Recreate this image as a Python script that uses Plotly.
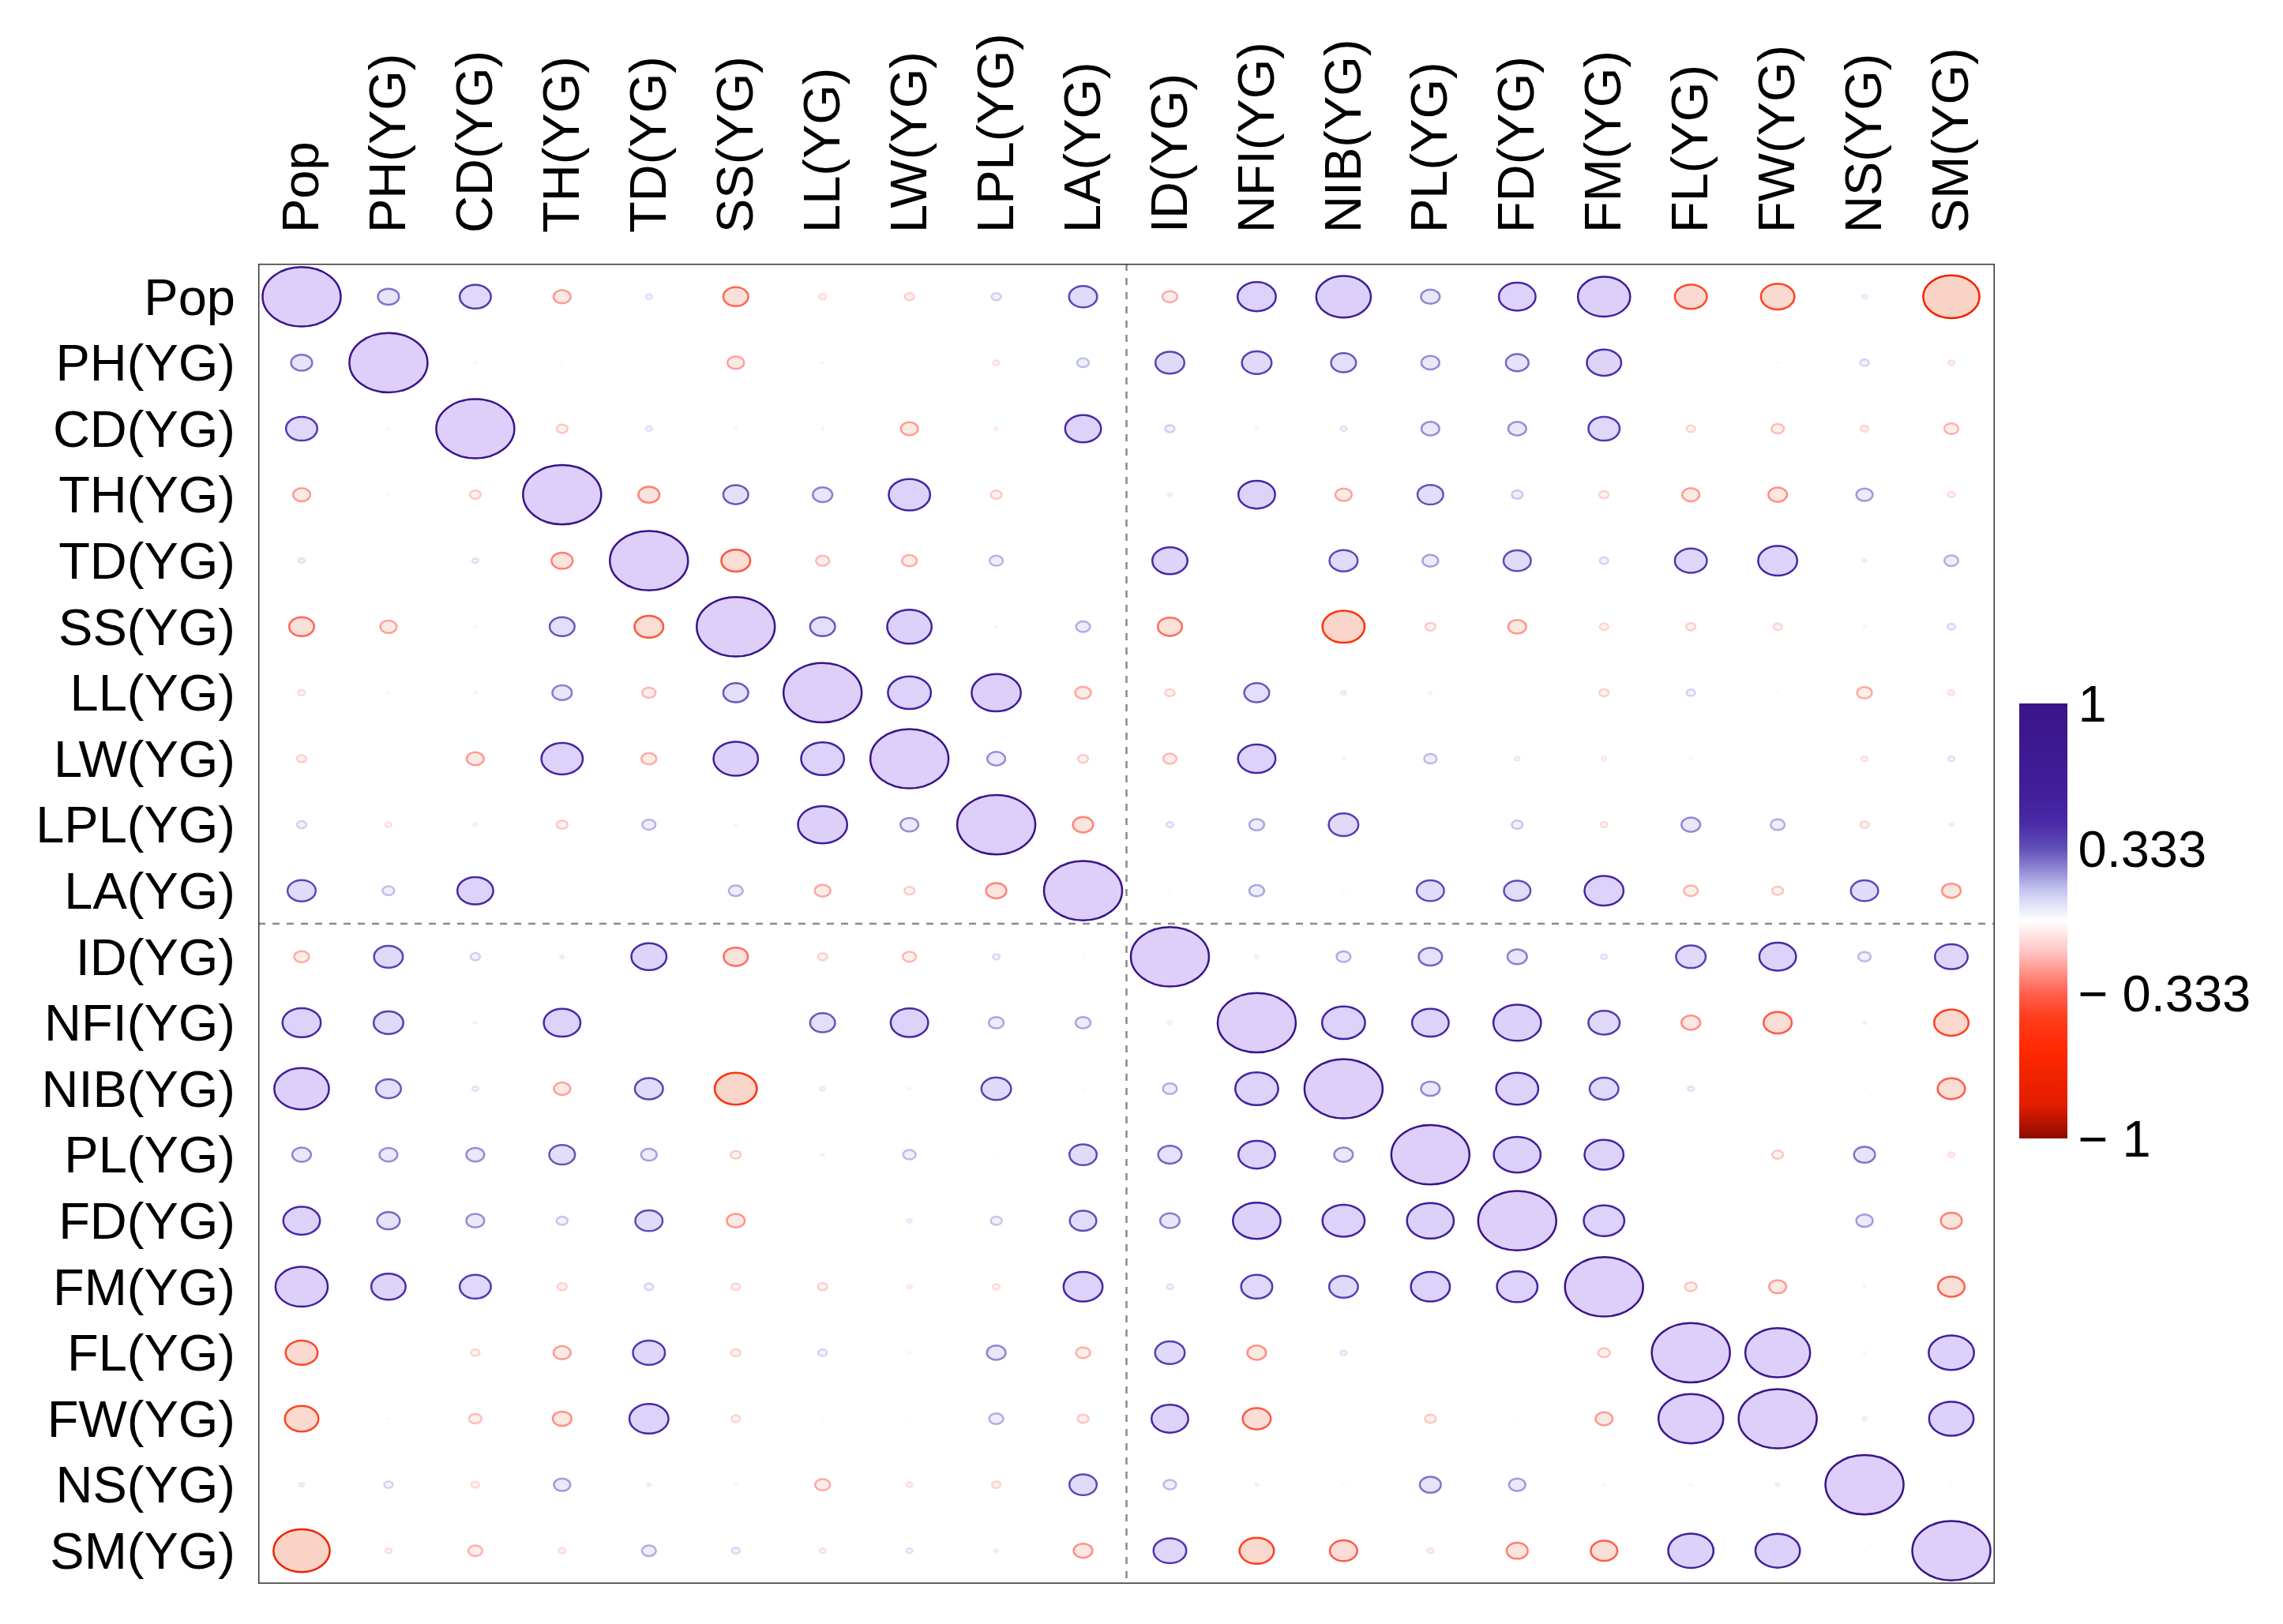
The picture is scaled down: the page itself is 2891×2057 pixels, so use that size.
import plotly.graph_objects as go

# ---------------- data ----------------
labels = ["Pop", "PH(YG)", "CD(YG)", "TH(YG)", "TD(YG)", "SS(YG)", "LL(YG)", "LW(YG)",
          "LPL(YG)", "LA(YG)", "ID(YG)", "NFI(YG)", "NIB(YG)", "PL(YG)", "FD(YG)",
          "FM(YG)", "FL(YG)", "FW(YG)", "NS(YG)", "SM(YG)"]

# upper-triangle correlations: each list holds the values to the right of the diagonal
upper_Pop = [0.27, 0.40, -0.22, 0.08, -0.32, -0.09, -0.12, 0.12, 0.36, -0.19, 0.49, 0.70, 0.24, 0.47, 0.67, -0.41, -0.43, 0.06, -0.72]
upper_PH = [-0.03, -0.02, 0.01, -0.21, -0.03, -0.01, -0.08, 0.15, 0.37, 0.38, 0.32, 0.23, 0.29, 0.44, -0.01, 0.02, 0.11, -0.08]
upper_CD = [-0.14, 0.08, -0.03, 0.03, -0.22, -0.05, 0.46, 0.12, 0.03, 0.08, 0.23, 0.23, 0.40, -0.11, -0.16, -0.10, -0.18]
upper_TH = [-0.27, 0.32, 0.25, 0.53, -0.14, 0.01, 0.05, 0.47, -0.21, 0.33, 0.14, -0.12, -0.22, -0.24, 0.21, -0.09]
upper_TD = [-0.37, -0.17, -0.19, 0.17, 0.01, 0.45, 0.01, 0.36, 0.20, 0.35, 0.11, 0.41, 0.50, 0.05, 0.18]
upper_SS = [0.32, 0.57, -0.03, 0.18, -0.31, 0.01, -0.54, -0.13, -0.23, -0.11, -0.12, -0.11, -0.03, 0.10]
upper_LL = [0.55, 0.63, -0.20, -0.12, 0.32, 0.06, -0.04, 0.01, -0.12, 0.11, -0.02, -0.19, -0.08]
upper_LW = [0.23, -0.13, -0.17, 0.48, 0.03, 0.16, 0.06, -0.06, -0.03, 0.01, -0.08, 0.08]
upper_LPL = [-0.26, 0.09, 0.19, 0.38, 0.01, 0.14, -0.09, 0.24, 0.18, -0.11, 0.05]
upper_LA = [-0.02, 0.19, 0.02, 0.35, 0.34, 0.50, -0.18, -0.14, 0.35, -0.24]
upper_ID = [-0.05, 0.18, 0.30, 0.25, 0.08, 0.38, 0.47, 0.16, 0.42]
upper_NFI = [0.55, 0.47, 0.61, 0.40, -0.24, -0.36, 0.04, -0.44]
upper_NIB = [0.24, 0.54, 0.37, 0.08, 0.01, 0.02, -0.35]
upper_PL = [0.60, 0.50, 0.01, -0.14, 0.27, -0.08]
upper_FD = [0.52, 0.01, 0.01, 0.21, -0.27]
upper_FM = [-0.15, -0.22, -0.03, -0.34]
upper_FL = [0.83, -0.03, 0.58]
upper_FW = [0.05, 0.57]
upper_NS = [-0.02]

colorbar_ticks = [1, 0.333, -0.333, -1]
colorbar_ticktext = ["1", "0.333", "\u2212 0.333", "\u2212 1"]

# ---------------- build symmetric matrix ----------------
upper_rows = [upper_Pop, upper_PH, upper_CD, upper_TH, upper_TD, upper_SS, upper_LL,
              upper_LW, upper_LPL, upper_LA, upper_ID, upper_NFI, upper_NIB, upper_PL,
              upper_FD, upper_FM, upper_FL, upper_FW, upper_NS]
n = len(labels)
corr = [[0.0] * n for _ in range(n)]
for i in range(n):
    corr[i][i] = 1.0
for i, row in enumerate(upper_rows):
    for k, v in enumerate(row):
        j = i + 1 + k
        corr[i][j] = v
        corr[j][i] = v

# ---------------- colour map ----------------
stops = [(-1.0, (140, 12, 0)), (-0.85, (225, 28, 0)), (-0.6, (255, 40, 0)),
         (-0.45, (255, 60, 26)), (-0.333, (255, 96, 80)), (-0.25, (255, 138, 128)),
         (-0.15, (255, 192, 192)), (0.0, (255, 255, 255)), (0.08, (224, 224, 248)),
         (0.15, (192, 192, 236)), (0.25, (138, 128, 208)), (0.333, (96, 80, 184)),
         (0.45, (74, 42, 168)), (0.6, (64, 30, 156)), (1.0, (58, 20, 135))]


def color_at(v):
    v = max(-1.0, min(1.0, v))
    for (a, ca), (b, cb) in zip(stops[:-1], stops[1:]):
        if a <= v <= b:
            t = 0 if b == a else (v - a) / (b - a)
            return tuple(int(round(ca[k] + t * (cb[k] - ca[k]))) for k in range(3))
    return stops[-1][1]


def fill_at(v):
    c = list(color_at(v))
    if v < 0:
        # reference fills on the red side are warm peach tones
        c[1] = min(255, c[1] + 25)
    m = max(c)
    bright = [x * 230.0 / m for x in c] if m > 0 else [230.0] * 3
    return tuple(int(round(255 * 0.78 + 0.22 * x)) for x in bright)


colorscale = [[(v + 1) / 2, "rgb(%d,%d,%d)" % c] for v, c in stops]

# ---------------- shapes ----------------
shapes = []
# group dividers
shapes.append(dict(type="line", xref="x", yref="y", x0=9.5, x1=9.5, y0=-0.5, y1=n - 0.5,
                   line=dict(color="#8a8a8a", width=2.5, dash="dash"), layer="below"))
shapes.append(dict(type="line", xref="x", yref="y", x0=-0.5, x1=n - 0.5, y0=9.5, y1=9.5,
                   line=dict(color="#8a8a8a", width=2.5, dash="dash"), layer="below"))
for i in range(n):
    for j in range(n):
        v = corr[i][j]
        half = 0.45 * abs(v)
        r, g, b = color_at(v)
        fr, fg, fb = fill_at(v)
        shapes.append(dict(type="circle", xref="x", yref="y",
                           x0=j - half, x1=j + half, y0=i - half, y1=i + half,
                           fillcolor="rgb(%d,%d,%d)" % (fr, fg, fb),
                           line=dict(color="rgb(%d,%d,%d)" % (r, g, b), width=2.5),
                           layer="above"))
# frame
shapes.append(dict(type="rect", xref="x", yref="y", x0=-0.5, x1=n - 0.5, y0=-0.5, y1=n - 0.5,
                   line=dict(color="#333333", width=3), layer="above"))

fig = go.Figure()
fig.add_trace(go.Scatter(
    x=[None], y=[None], mode="markers", showlegend=False, hoverinfo="skip",
    marker=dict(color=[0], cmin=-1, cmax=1, colorscale=colorscale, showscale=True,
                colorbar=dict(x=1.0141, xanchor="left", y=0.502, yanchor="middle",
                              len=0.3295, lenmode="fraction", thickness=61,
                              thicknessmode="pixels", outlinewidth=0, xpad=0, ypad=0,
                              tickvals=colorbar_ticks, ticktext=colorbar_ticktext,
                              ticks="", tickfont=dict(size=65, color="black",
                                                      family="Liberation Sans")))))

font_family = "Liberation Sans, Arial, sans-serif"
fig.update_layout(
    width=2891, height=2057,
    margin=dict(l=327, r=365, t=334, b=51, autoexpand=False),
    paper_bgcolor="white", plot_bgcolor="white",
    font=dict(family=font_family, color="black"),
    shapes=shapes,
    xaxis=dict(range=[-0.5, n - 0.5], side="top", tickmode="array",
               tickvals=list(range(n)), ticktext=labels, tickangle=-90,
               tickfont=dict(size=65, color="black"), showgrid=False, zeroline=False,
               showline=False, ticks="", ticklabelstandoff=38, fixedrange=True),
    yaxis=dict(range=[n - 0.5, -0.5], tickmode="array", tickvals=list(range(n)),
               ticktext=labels, tickfont=dict(size=65, color="black"), showgrid=False,
               zeroline=False, showline=False, ticks="", ticklabelstandoff=28,
               fixedrange=True),
)

fig.write_html("out.html", config={"displayModeBar": False},
               post_script="document.body.style.margin='0';")
